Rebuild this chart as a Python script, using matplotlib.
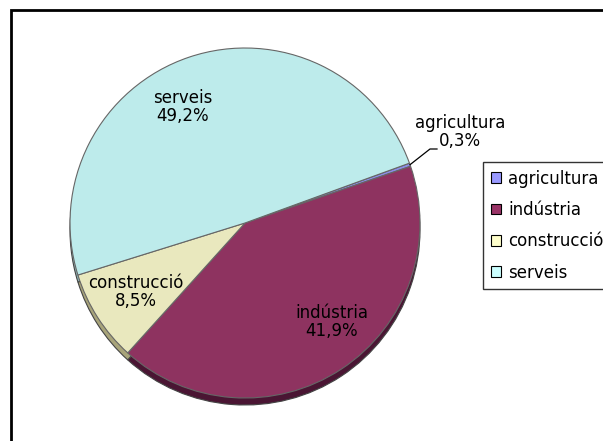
import numpy as np
import matplotlib.pyplot as plt
from matplotlib.patches import Rectangle

# sector shares (%)
labels = ['agricultura', 'indústria', 'construcció', 'serveis']
values = [0.3, 41.9, 8.5, 49.2]
value_text = ['0,3%', '41,9%', '8,5%', '49,2%']

top_colors = ['#8c8ce6', '#8e3360', '#e9e8be', '#bdebeb']
side_colors = ['#5a5aa0', '#4a1533', '#a8a47a', '#8fb5b5']
legend_colors = ['#9999ff', '#993366', '#ffffcc', '#ccffff']

plt.rcParams['font.family'] = ['DejaVu Sans']

W, H = 603, 441
fig = plt.figure(figsize=(W / 100, H / 100), dpi=100)
ax = fig.add_axes([0, 0, 1, 1])

cx, cy, r = 245, H - 223, 175
start = 20

# side of the slightly tilted pie
ax.pie(values, colors=side_colors, startangle=start, counterclock=False,
       radius=r, center=(cx, cy - 7), frame=True,
       wedgeprops=dict(edgecolor='#444444', linewidth=0.8))
# top face
wedges, _ = ax.pie(values, colors=top_colors, startangle=start, counterclock=False,
                   radius=r, center=(cx, cy), frame=True,
                   wedgeprops=dict(edgecolor='#666666', linewidth=0.8))
ax.set_xlim(0, W)
ax.set_ylim(0, H)
ax.set_aspect('auto')
ax.axis('off')

fs = 12
ax.text(183, H - 107, 'serveis\n' + value_text[3], ha='center', va='center', fontsize=fs, linespacing=1.05)
ax.text(332, H - 322, 'indústria\n' + value_text[1], ha='center', va='center', fontsize=fs, linespacing=1.05)
ax.text(136, H - 292, 'construcció\n' + value_text[2], ha='center', va='center', fontsize=fs, linespacing=1.05)
ax.text(460, H - 132, 'agricultura\n' + value_text[0], ha='center', va='center', fontsize=fs, linespacing=1.05)

# leader line for the small slice
w = wedges[0]
mid = np.deg2rad((w.theta1 + w.theta2) / 2)
ex, ey = cx + r * np.cos(mid), cy + r * np.sin(mid)
ax.plot([ex, 430, 437], [ey, H - 149, H - 149], color='black', lw=0.9)

# legend (its right side runs off the picture, as in the original)
handles = [Rectangle((0, 0), 1, 1, facecolor=c, edgecolor='black', lw=0.8) for c in legend_colors]
leg = ax.legend(handles, labels, loc='upper left', bbox_to_anchor=(483 / W, 1 - 162 / H),
                bbox_transform=fig.transFigure, fontsize=fs, frameon=True, fancybox=False,
                handlelength=0.6, handleheight=0.6, handletextpad=0.45, labelspacing=0.8,
                borderpad=0.45, borderaxespad=0)
leg.get_frame().set_edgecolor('black')
leg.get_frame().set_linewidth(1.0)

# chart border (right and bottom sides fall outside the picture)
ax.add_patch(Rectangle((11, -20), W + 20, H - 10 + 20, fill=False,
                       edgecolor='black', lw=2, clip_on=False))

fig.savefig('out.png', dpi=100)
